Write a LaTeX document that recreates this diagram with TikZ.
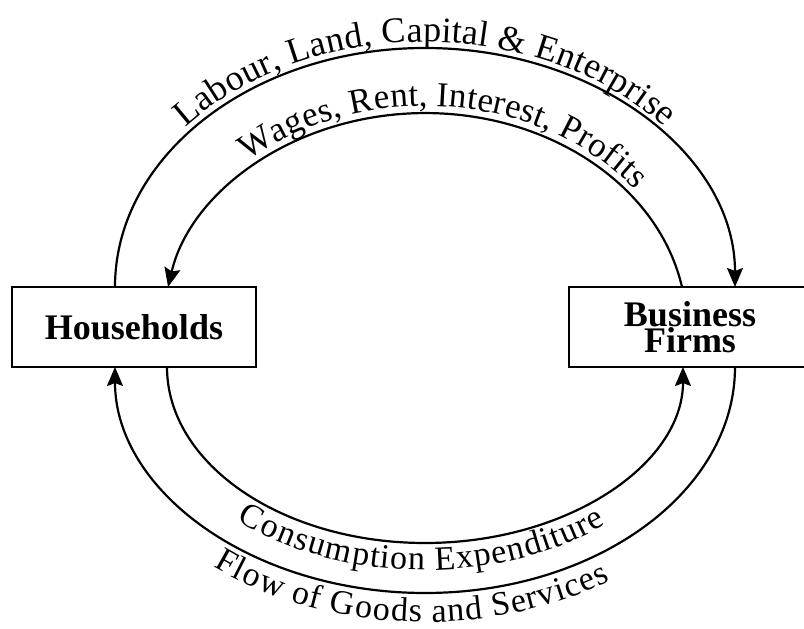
\documentclass[tikz,border=0pt]{standalone}
\usepackage{fontspec}
\setmainfont{Liberation Serif}
\usetikzlibrary{decorations.text,arrows.meta}
\newcommand\topfont{\fontsize{36}{40}\selectfont}
\newcommand\midfont{\fontsize{35}{40}\selectfont}
\newcommand\botfont{\fontsize{34}{40}\selectfont}
\begin{document}
\begin{tikzpicture}[x=1pt,y=1pt,
  box/.style={draw, line width=2.5pt, minimum width=244pt, minimum height=80pt,
    inner sep=0pt, font=\fontsize{36}{26}\selectfont\bfseries, align=center},
  flow/.style={line width=2.2pt, -{Stealth[length=19pt,width=16pt,inset=3pt]}},
  outertop/.style={x radius=310pt, y radius=239pt},
  innertop/.style={x radius=261.6pt, y radius=214pt},
  innerbot/.style={x radius=258pt, y radius=176pt},
  outerbot/.style={x radius=310pt, y radius=226pt}]
\useasboundingbox (0,0) rectangle (804,629);
\node[box] (hh) at (134,302) {Households};
\node[box, minimum width=242pt] (bf) at (690,302) {Business\\Firms};
% end points on the boxes
\coordinate (hoT) at (115,342); \coordinate (hiT) at (168,342);
\coordinate (foT) at (735,342); \coordinate (fiT) at (682,342);
\coordinate (hoB) at (115,262); \coordinate (hiB) at (167,262);
\coordinate (foB) at (735,262); \coordinate (fiB) at (683,262);
% connectors
\draw[flow] (hoT) arc[start angle=180, end angle=0, outertop];
\draw[flow] (fiT) arc[start angle=10.8, end angle=169.2, innertop];
\draw[flow] (hiB) arc[start angle=180, end angle=360, innerbot];
\draw[flow] (foB) arc[start angle=0, end angle=-180, outerbot];
% labels along the arcs
\path[decorate, decoration={text along path, raise=6pt, text align={align=center},
  text={|\topfont|Labour, Land, Capital {\&} Enterprise}}]
  (hoT) arc[start angle=180, end angle=0, outertop];
\path[decorate, decoration={text along path, raise=7pt, text align={align=center, left indent=42pt},
  text={|\midfont|Wages, Rent, Interest, Profits}}]
  (hiT) arc[start angle=169.2, end angle=10.8, innertop];
\path[decorate, decoration={text along path, raise=-27pt, text align={align=center, right indent=8pt},
  text={|\botfont|Consumption Expenditure}}]
  (hiB) arc[start angle=180, end angle=360, innerbot];
\path[decorate, decoration={text along path, raise=-29pt, text align={align=center, right indent=28pt},
  text={|\botfont|Flow of Goods and Services}}]
  (hoB) arc[start angle=180, end angle=360, outerbot];
\end{tikzpicture}
\end{document}
